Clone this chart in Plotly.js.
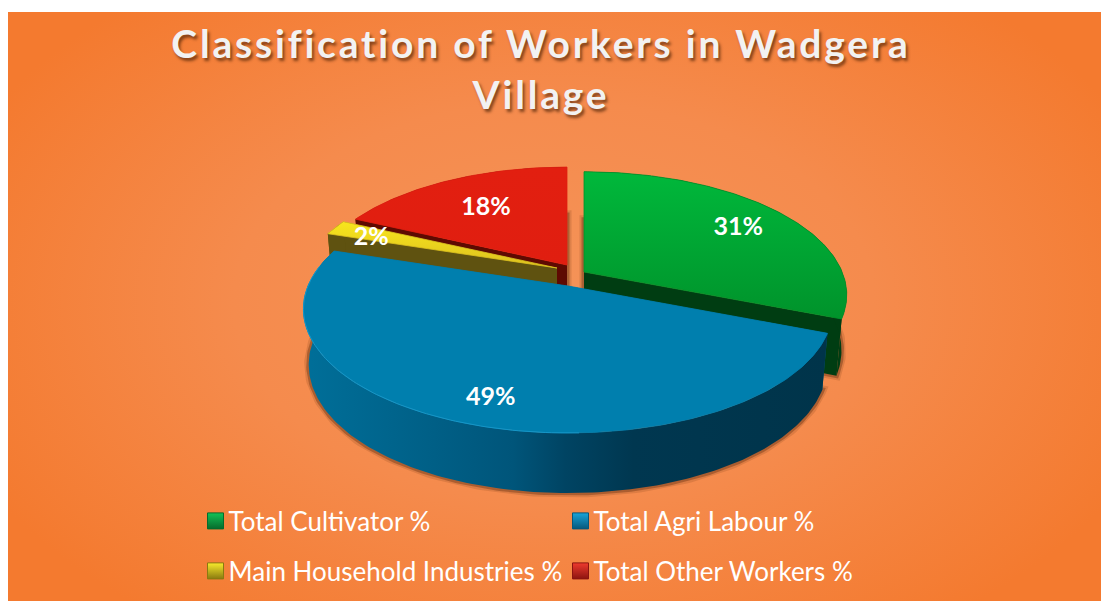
<!DOCTYPE html>
<html>
<head>
<meta charset="utf-8">
<script src="https://cdn.plot.ly/plotly-3.0.1.min.js"></script>
<style>
html,body{margin:0;padding:0;background:#fff;overflow:hidden;width:1101px;height:601px}
#chart{position:absolute;left:8px;top:12px;width:1093px;height:589px;
background:radial-gradient(ellipse 640px 400px at 546px 290px,#f59358 0%,#f58b4d 50%,#f47a2f 100%)}
.gtitle{letter-spacing:2.8px}
.legendtext,.legend2text{transform:translateX(-7px)}
</style>
</head>
<body>
<div id="chart"></div>
<script>
const categories = ['Total Cultivator %','Total Agri Labour %','Main Household Industries %','Total Other Workers %'];
const percentValues = [31,49,2,18];
const titleText = 'Classification of Workers in Wadgera<br>Village';

// Style and layout of the drawn pie
const topColors = [['#00b83b','#00932b'],['#007fae','#007fae'],['#f8e61c','#dcc020'],['#e21f10','#e01e10']];
const wallColors = ['#003d12','#005f86','#5f5210','#5e0a02'];
const legendColors = ['#12c257','#1ba4d8','#f8ea2c','#ee3a2e'];
const legendDark = ['#066b2c','#07587c','#8a7a10','#8c1410'];
const sliceApex = [[584,272],[568,286],[557,268],[567,265]];
const sliceScale = [0.993,1,0.98,0.97];
const labelRadius = [0.77,0.77,0.8,0.68];
const labelNudge = [[2,4],[1,13],[-6,4],[2,4]];
const RX = 260, RY = 119.7, K = 0.1855, BASE = 0.98;
const DEPTH0 = 54.5, DEPTH1 = 8.5;
const drawOrder = [3,2,0,1];

function project(i, cl, lower, r){
  r = r === undefined ? 1 : r;
  const a = sliceApex[i], sc = sliceScale[i];
  const t = cl*Math.PI/180, u = r*Math.sin(t), v = -r*Math.cos(t), w = 1-K*v;
  const dx = sc*RX*u/w, dy = sc*RY*v/w;
  return lower ? [a[0]+BASE*dx, a[1]+BASE*dy+DEPTH0+DEPTH1*v] : [a[0]+dx, a[1]+dy];
}
function arc(i, c0, c1, lower){
  const n = Math.max(2, Math.ceil(Math.abs(c1-c0)));
  const out = [];
  for(let k=0;k<=n;k++) out.push(project(i, c0+(c1-c0)*k/n, lower));
  return out;
}
function poly(pts, extra){
  return Object.assign({type:'scatter',mode:'lines',x:pts.map(p=>p[0]),y:pts.map(p=>p[1]),
    fill:'toself',line:{width:0},hoverinfo:'skip',showlegend:false}, extra);
}
const traces = [];
let acc = 0;
const spans = percentValues.map(v=>{const s=[acc*3.6,(acc+v)*3.6];acc+=v;return s;});

// soft contact shadows
drawOrder.forEach(i=>{
  const a = sliceApex[i], [c0,c1] = spans[i];
  const lowerApex = [a[0], a[1]+DEPTH0];
  const pts = [lowerApex,...arc(i,c0,c1,true),lowerApex];
  [[9,0.14],[5,0.34]].forEach(s=>{
    traces.push({type:'scatter',mode:'lines',x:pts.map(p=>p[0]),y:pts.map(p=>p[1]),
      line:{color:'rgba(80,35,10,'+s[1]+')',width:s[0]},hoverinfo:'skip',showlegend:false});
  });
});
// walls and tops
drawOrder.forEach(i=>{
  const a = sliceApex[i], [c0,c1] = spans[i];
  const lowerApex = [a[0], a[1]+DEPTH0];
  const wall = (c)=>poly([a,project(i,c,false),project(i,c,true),lowerApex,a],{fillcolor:wallColors[i]});
  traces.push(wall(c0)); traces.push(wall(c1));
  const outerTop = arc(i,c0,c1,false), outerLow = arc(i,c0,c1,true).reverse();
  const outer = poly([...outerTop,...outerLow],{fillcolor:wallColors[i]});
  if(i===1){
    outer.fillgradient = {type:'horizontal',colorscale:[[0,'#006f99'],[0.25,'#005f86'],[0.4,'#00557a'],[0.5,'#004463'],[0.63,'#003750'],[1,'#00344a']]};
    delete outer.fillcolor;
  }
  traces.push(outer);
  const topPts = [a,...outerTop,a];
  traces.push(poly(topPts,{fillgradient:{type:'vertical',colorscale:[[0,topColors[i][1]],[1,topColors[i][0]]]},
    line:{width:0.8,color:topColors[i][1]}}));
});
// lit rim on the front-left edge of the largest slice
const rim = arc(1,178,280,false);
traces.push({type:'scatter',mode:'lines',x:rim.map(p=>p[0]),y:rim.map(p=>p[1]),
  line:{color:'#1596c8',width:1},hoverinfo:'skip',showlegend:false});
// percent labels
const labelPts = percentValues.map((v,i)=>{
  const p = project(i,(spans[i][0]+spans[i][1])/2,false,labelRadius[i]);
  return [p[0]+labelNudge[i][0],p[1]+labelNudge[i][1]];
});
traces.push({type:'scatter',mode:'text',x:labelPts.map(p=>p[0]),y:labelPts.map(p=>p[1]),
  text:percentValues.map(v=>v+'%'),textposition:'middle center',
  textfont:{family:'Lato, Carlito, sans-serif',size:25,color:'#ffffff',weight:700},
  hoverinfo:'skip',showlegend:false});
// legend keys
categories.forEach((c,i)=>{
  traces.push({type:'scatter',mode:'markers',x:[null],y:[null],name:c,
    legend: i<2 ? 'legend' : 'legend2',
    marker:{symbol:'square',size:16,color:legendColors[i],
      gradient:{type:'vertical',color:legendDark[i]},line:{color:legendDark[i],width:1}}});
});
const legendBase = {orientation:'h',xanchor:'left',yanchor:'middle',entrywidth:320,entrywidthmode:'pixels',
  itemclick:false,itemdoubleclick:false,bgcolor:'rgba(0,0,0,0)',
  font:{family:'Lato, Carlito, sans-serif',size:26,color:'#ffffff'}};
const layout = {
  width:1093,height:589,margin:{l:0,r:0,t:0,b:0},
  paper_bgcolor:'rgba(0,0,0,0)',plot_bgcolor:'rgba(0,0,0,0)',
  showlegend:true,
  title:{text:titleText,x:533/1093,xanchor:'center',xref:'paper',y:1-46/589,yref:'paper',yanchor:'top',
    font:{family:'Lato, Carlito, sans-serif',size:39,color:'#f2f2f2',weight:700,shadow:'2px 3px 3px rgba(70,30,5,0.65)'}},
  xaxis:{range:[8,1101],visible:false,fixedrange:true},
  yaxis:{range:[601,12],visible:false,fixedrange:true},
  legend:Object.assign({},legendBase,{x:187.5/1093,y:1-(521-12)/589}),
  legend2:Object.assign({},legendBase,{x:187.5/1093,y:1-(571-12)/589})
};
Plotly.newPlot('chart',traces,layout,{displayModeBar:false});
</script>
</body>
</html>
